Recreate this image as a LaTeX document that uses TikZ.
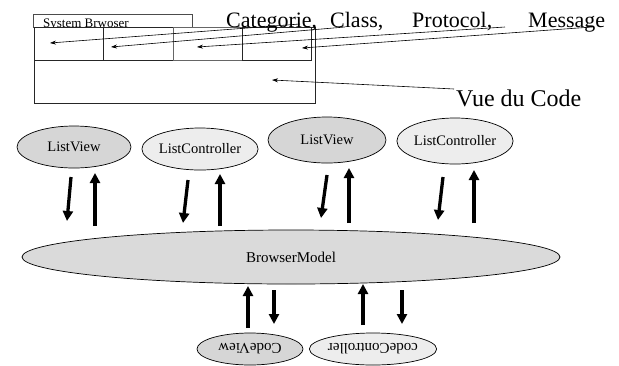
\documentclass[tikz,border=0pt]{standalone}
\usepackage{fontspec}
\setmainfont{Liberation Serif}
\usetikzlibrary{shapes.geometric,arrows.meta}
\definecolor{darkfill}{HTML}{D6D6D6}
\definecolor{lightfill}{HTML}{EDEDED}
\definecolor{modelfill}{HTML}{DADADA}
\tikzset{
  oval/.style={ellipse, draw=black, line width=0.7pt, inner sep=0pt, font=\fontsize{14.5}{16}\selectfont},
  bigtext/.style={inner sep=0pt, anchor=base west, font=\fontsize{22}{26}\selectfont},
  pane/.style={draw=black!85, line width=0.9pt, fill=white},
  pointer/.style={line width=0.6pt, -{Stealth[length=6pt,width=4pt]}},
  flow/.style={line width=3.3pt, -{Triangle[length=10pt,width=10pt]}},
}
\begin{document}
\begin{tikzpicture}[x=1pt,y=-1pt]
\useasboundingbox (0,0) rectangle (619,365);
% browser window
\draw[draw=black!70, line width=0.8pt] (33,14) rectangle (192,27);
\node[inner sep=0pt, anchor=base west, font=\fontsize{13}{15}\selectfont] (title) at (43,27.5) {System Brwoser};
\draw[pane] (34,27) rectangle (315,103);
\draw[pane] (34,27) rectangle (103,60);
\draw[pane] (103,27) rectangle (173,60);
\draw[pane, draw=black!60] (173,27) rectangle (242,60);
\draw[pane] (242,27) rectangle (311,60);
% labels
\node[bigtext] (cat) at (226,27) {Categorie,};
\node[bigtext] (cls) at (330,27) {Class,};
\node[bigtext] (proto) at (412,27) {Protocol,};
\node[bigtext] (msg) at (528,27) {Message};
\node[bigtext, font=\fontsize{24}{28}\selectfont] (vue) at (456,106) {Vue du Code};
% pointer ends
\coordinate (p1) at (50,43);
\coordinate (p2) at (111,47);
\coordinate (p3) at (197,47);
\coordinate (p4) at (302,48);
\coordinate (p5) at (272,80);
\coordinate (s1) at (300,24);
\coordinate (s2) at (345,27);
\coordinate (s3) at (505,27);
\coordinate (s4) at (592,27);
\coordinate (s5) at (454,89);
\draw[pointer] (s1) -- (p1);
\draw[pointer] (s2) -- (p2);
\draw[pointer] (s3) -- (p3);
\draw[pointer] (s4) -- (p4);
\draw[pointer] (s5) -- (p5);
% ovals
\node[oval, fill=darkfill, minimum width=114pt, minimum height=42pt] (lv1) at (74,147) {ListView};
\node[oval, fill=lightfill, minimum width=115pt, minimum height=42pt] (lc1) at (200,149) {ListController};
\node[oval, fill=darkfill, minimum width=118pt, minimum height=46pt] (lv2) at (327,140) {ListView};
\node[oval, fill=lightfill, minimum width=116pt, minimum height=46pt] (lc2) at (455,141) {ListController};
\node[oval, fill=modelfill, minimum width=538pt, minimum height=54pt, font=\fontsize{15}{17}\selectfont] (bm) at (291,257) {BrowserModel};
\node[oval, fill=darkfill, minimum width=106pt, minimum height=32pt, rotate=180, font=\fontsize{15}{17}\selectfont] (cv) at (250,349) {CodeView};
\node[oval, fill=lightfill, minimum width=120pt, minimum height=32pt, rotate=180, font=\fontsize{15}{17}\selectfont] (cc) at (373,349) {codeController};
% flow arrows top
\coordinate (d1a) at (71,177); \coordinate (d1b) at (67,221);
\coordinate (u1a) at (95,226); \coordinate (u1b) at (95,173);
\coordinate (d2a) at (188,180); \coordinate (d2b) at (183,223);
\coordinate (u2a) at (220,226); \coordinate (u2b) at (220,174);
\coordinate (d3a) at (327,175); \coordinate (d3b) at (321,218);
\coordinate (u3a) at (349,223); \coordinate (u3b) at (349,168);
\coordinate (d4a) at (443,177); \coordinate (d4b) at (438,220);
\coordinate (u4a) at (474,223); \coordinate (u4b) at (474,170);
\draw[flow] (d1a) -- (d1b);
\draw[flow] (u1a) -- (u1b);
\draw[flow] (d2a) -- (d2b);
\draw[flow] (u2a) -- (u2b);
\draw[flow] (d3a) -- (d3b);
\draw[flow] (u3a) -- (u3b);
\draw[flow] (d4a) -- (d4b);
\draw[flow] (u4a) -- (u4b);
% flow arrows bottom
\coordinate (u5a) at (248,328); \coordinate (u5b) at (248,286);
\coordinate (d5a) at (274,290); \coordinate (d5b) at (274,324);
\coordinate (u6a) at (363,325); \coordinate (u6b) at (363,284);
\coordinate (d6a) at (402,290); \coordinate (d6b) at (402,324);
\draw[flow] (u5a) -- (u5b);
\draw[flow] (d5a) -- (d5b);
\draw[flow] (u6a) -- (u6b);
\draw[flow] (d6a) -- (d6b);
\end{tikzpicture}
\end{document}
